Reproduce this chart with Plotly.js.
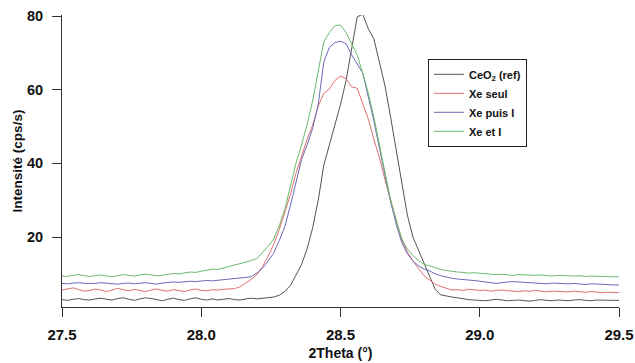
<!DOCTYPE html>
<html>
<head>
<meta charset="utf-8">
<script src="https://cdn.plot.ly/plotly-3.0.1.min.js"></script>
<style>html,body{margin:0;padding:0;background:#fff;}#chart{width:635px;height:363px;}</style>
</head>
<body>
<div id="chart"></div>
<script>
const twoTheta = [27.50,27.52,27.54,27.56,27.58,27.60,27.62,27.64,27.66,27.68,27.70,27.72,27.74,27.76,27.78,27.80,27.82,27.84,27.86,27.88,27.90,27.92,27.94,27.96,27.98,28.00,28.02,28.04,28.06,28.08,28.10,28.12,28.14,28.16,28.18,28.20,28.22,28.24,28.26,28.28,28.30,28.32,28.34,28.36,28.38,28.40,28.42,28.44,28.46,28.48,28.50,28.52,28.54,28.56,28.58,28.60,28.62,28.64,28.66,28.68,28.70,28.72,28.74,28.76,28.78,28.80,28.82,28.84,28.86,28.88,28.90,28.92,28.94,28.96,28.98,29.00,29.02,29.04,29.06,29.08,29.10,29.12,29.14,29.16,29.18,29.20,29.22,29.24,29.26,29.28,29.30,29.32,29.34,29.36,29.38,29.40,29.42,29.44,29.46,29.48,29.50];

const ceo2Ref = [3.0,2.8,3.1,3.3,3.0,2.9,3.2,3.4,3.1,2.9,3.3,3.5,3.1,2.8,3.2,3.5,3.3,3.0,2.7,3.1,3.4,3.0,2.8,3.2,3.5,3.1,2.9,3.2,2.9,3.1,3.3,3.0,2.9,3.2,3.4,3.2,3.4,3.6,3.7,4.2,5.2,6.8,9.5,12.5,16.8,22.5,30.0,39.5,45.0,50.5,56.0,62.5,71.0,79.8,80.5,76.5,73.8,67.5,61.0,52.5,44.0,34.5,26.0,20.0,16.5,13.0,9.0,5.8,4.3,3.9,3.7,3.5,3.2,3.0,2.9,2.8,2.7,2.9,3.1,2.9,2.7,2.8,2.9,2.7,2.6,2.8,3.0,2.8,2.7,2.9,2.8,2.7,2.9,3.0,2.8,2.7,2.9,2.8,2.7,2.8,2.8];

const xeSeul = [5.6,5.9,6.2,5.7,5.3,5.5,5.9,5.6,5.2,5.6,6.1,5.7,5.4,5.8,5.5,5.2,5.6,5.9,5.5,5.3,5.7,5.5,5.2,5.6,5.9,5.5,5.4,5.7,5.6,5.8,5.8,6.0,6.5,7.4,8.5,9.8,12.0,14.8,18.0,22.0,26.5,31.5,37.3,42.0,46.5,50.4,55.5,59.0,60.2,62.5,63.7,63.0,60.8,60.4,55.9,52.0,46.5,41.5,35.5,30.0,24.5,19.2,16.0,13.5,11.5,9.5,8.3,7.2,6.6,6.0,5.6,5.7,5.5,5.8,5.6,5.5,5.6,5.3,5.5,5.6,5.4,5.3,5.2,5.4,5.3,5.5,5.2,5.1,5.3,5.2,5.0,5.1,5.3,5.1,5.0,5.2,5.0,4.9,5.0,4.9,4.9];

const xePuisI = [7.4,7.3,7.5,7.6,7.4,7.3,7.4,7.6,7.5,7.3,7.2,7.4,7.5,7.3,7.4,7.6,7.4,7.2,7.5,7.7,7.8,7.7,7.9,8.0,7.9,8.1,8.2,8.1,8.3,8.4,8.5,8.7,8.9,9.0,9.3,10.2,11.5,13.5,15.6,19.0,22.8,28.5,34.6,41.0,45.0,49.5,56.0,67.5,71.5,72.8,73.2,72.5,69.5,67.0,64.5,58.0,51.5,44.0,36.5,29.5,23.5,18.5,15.5,13.5,12.2,11.3,10.8,10.0,9.5,9.1,8.8,8.6,8.5,8.3,8.2,8.0,7.9,7.6,7.4,7.5,7.8,7.9,7.8,7.7,7.5,7.6,7.4,7.3,7.5,7.4,7.2,7.3,7.4,7.2,7.1,7.3,7.2,7.0,7.1,7.0,7.0];

const xeEtI = [9.4,9.3,9.6,9.8,9.5,9.3,9.5,9.7,9.4,9.2,9.5,9.8,9.6,9.4,9.7,9.9,9.7,9.5,9.6,9.9,10.1,10.0,10.3,10.5,10.4,10.7,11.0,11.3,11.2,11.6,11.9,12.2,12.8,13.2,13.6,14.2,15.8,17.5,19.5,23.0,27.5,33.5,40.0,45.0,50.5,57.0,65.5,73.0,75.5,77.4,77.6,75.5,72.5,69.4,64.5,59.0,52.5,45.0,37.0,30.0,24.5,19.5,16.8,15.0,13.6,12.6,12.2,11.6,11.2,10.9,10.6,10.5,10.4,10.2,10.3,10.1,10.0,9.9,9.8,9.9,9.7,9.6,9.8,9.7,9.5,9.6,9.7,9.5,9.4,9.6,9.5,9.3,9.4,9.5,9.3,9.4,9.3,9.2,9.3,9.2,9.2];

const seriesNames = ['CeO<sub>2</sub> (ref)', 'Xe seul', 'Xe puis I', 'Xe et I'];
const seriesData = [ceo2Ref, xeSeul, xePuisI, xeEtI];
const seriesColors = ['#555555', '#e07070', '#6a6ab8', '#6cb86c'];
const xTicks = [27.5, 28.0, 28.5, 29.0, 29.5];
const xTickLabels = ['27.5', '28.0', '28.5', '29.0', '29.5'];
const yTicks = [20, 40, 60, 80];

const traces = seriesData.map((d, i) => ({
  x: twoTheta, y: d, type: 'scatter', mode: 'lines', name: seriesNames[i],
  line: {color: seriesColors[i], width: 1}
}));

const fam = 'Liberation Sans, Arial, sans-serif';
const layout = {
  width: 635, height: 363,
  margin: {l: 62, r: 16, t: 15, b: 56},
  paper_bgcolor: '#fff', plot_bgcolor: '#fff',
  showlegend: true,
  legend: {
    x: 0.657, y: 0.85, xanchor: 'left', yanchor: 'top',
    bordercolor: '#222', borderwidth: 1, bgcolor: '#fff',
    font: {family: fam, size: 11, color: '#111', weight: 'bold'},
    tracegroupgap: 0, itemwidth: 30
  },
  xaxis: {
    range: [27.5, 29.5], tickvals: xTicks, ticktext: xTickLabels,
    showgrid: false, zeroline: false, showline: true, linecolor: '#333', linewidth: 1,
    ticks: 'outside', ticklen: 9, tickcolor: '#333', ticklabelstandoff: 5,
    tickfont: {family: fam, size: 15, color: '#111', weight: 'bold'},
    title: {text: '2Theta (°)', font: {family: fam, size: 14, color: '#111', weight: 'bold'}, standoff: 6}
  },
  yaxis: {
    range: [1.0, 80.3], tickvals: yTicks,
    showgrid: false, zeroline: false, showline: true, linecolor: '#333', linewidth: 1,
    ticks: 'outside', ticklen: 9, tickcolor: '#333', ticklabelstandoff: 6,
    tickfont: {family: fam, size: 14.5, color: '#111', weight: 'bold'},
    title: {text: 'Intensité (cps/s)', font: {family: fam, size: 13.5, color: '#111', weight: 'bold'}, standoff: 1}
  }
};

Plotly.newPlot('chart', traces, layout, {displayModeBar: false, staticPlot: true});
</script>
</body>
</html>
